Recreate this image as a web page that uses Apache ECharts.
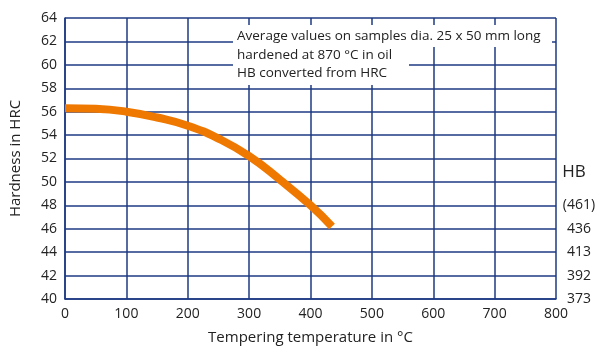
<!DOCTYPE html>
<html>
<head>
<meta charset="utf-8">
<script src="https://cdn.jsdelivr.net/npm/echarts@6/dist/echarts.min.js"></script>
<style>
  html, body { margin: 0; padding: 0; background: #fff; }
  #chart { width: 597px; height: 347px; }
</style>
</head>
<body>
<div id="chart"></div>
<script>
// tempering curve
const temps = [0, 50, 100, 150, 200, 250, 300, 350, 400, 435]
const hrc = [56.3, 56.25, 56.0, 55.5, 54.8, 53.7, 52.2, 50.2, 48.0, 46.2]

// HB scale on the right, aligned with HRC values
const hbAt = [40, 42, 44, 46, 48]
const hbLabels = ['373', '392', '413', '436', '(461)']

const noteLines = [
  'Average values on samples dia. 25 x 50 mm long',
  'hardened at 870 °C in oil',
  'HB converted from HRC',
]

const font = '"Open Sans", sans-serif'
const gridColor = '#1c3a82'
const textColor = '#222'

const chart = echarts.init(document.getElementById('chart'))
chart.setOption({
  animation: false,
  textStyle: { fontFamily: font },
  grid: { left: 65, top: 18, right: 41, bottom: 48, outerBoundsMode: 'none', containLabel: false },
  xAxis: {
    type: 'value',
    min: 0,
    max: 800,
    interval: 100,
    name: 'Tempering temperature in °C',
    nameLocation: 'middle',
    nameGap: 31,
    nameTextStyle: { fontSize: 15, color: textColor, fontFamily: font },
    axisLine: { show: true, lineStyle: { color: gridColor, width: 1.5 } },
    axisTick: { show: false },
    axisLabel: { fontSize: 14, color: textColor, margin: 8, fontFamily: font },
    splitLine: { show: true, lineStyle: { color: gridColor, width: 1.5 } },
  },
  yAxis: [
    {
      type: 'value',
      min: 40,
      max: 64,
      interval: 2,
      name: 'Hardness in HRC',
      nameLocation: 'middle',
      nameGap: 42,
      nameTextStyle: { fontSize: 15, color: textColor, fontFamily: font },
      axisLine: { show: true, lineStyle: { color: gridColor, width: 1.5 } },
      axisTick: { show: false },
      axisLabel: { fontSize: 14, color: textColor, margin: 8, fontFamily: font },
      splitLine: { show: true, lineStyle: { color: gridColor, width: 1.5 } },
    },
    {
      type: 'value',
      position: 'right',
      min: 40,
      max: 64,
      interval: 2,
      axisLine: { show: false },
      axisTick: { show: false },
      splitLine: { show: false },
      axisLabel: {
        fontSize: 14,
        color: textColor,
        align: 'center',
        margin: 23,
        fontFamily: font,
        formatter: (v) => {
          const i = hbAt.indexOf(v)
          return i >= 0 ? hbLabels[i] : ''
        },
      },
    },
  ],
  graphic: [
    { type: 'rect', shape: { x: 233, y: 25, width: 319, height: 22 }, style: { fill: '#fff' }, z: 10 },
    { type: 'rect', shape: { x: 233, y: 25, width: 176, height: 60 }, style: { fill: '#fff' }, z: 10 },
    {
      type: 'text', x: 237, y: 27, z: 11,
      style: { text: noteLines.join('\n'), font: '13.5px ' + font, lineHeight: 18.5, fill: textColor },
    },
    {
      type: 'text', x: 574, y: 172, z: 11,
      style: { text: 'HB', font: '17px ' + font, fill: textColor, align: 'center', verticalAlign: 'middle' },
    },
  ],
  series: [
    {
      type: 'line',
      data: temps.map((t, i) => [t, hrc[i]]),
      smooth: true,
      symbol: 'none',
      z: 5,
      lineStyle: { color: '#ef7800', width: 8, cap: 'butt' },
    },
  ],
})
</script>
</body>
</html>
